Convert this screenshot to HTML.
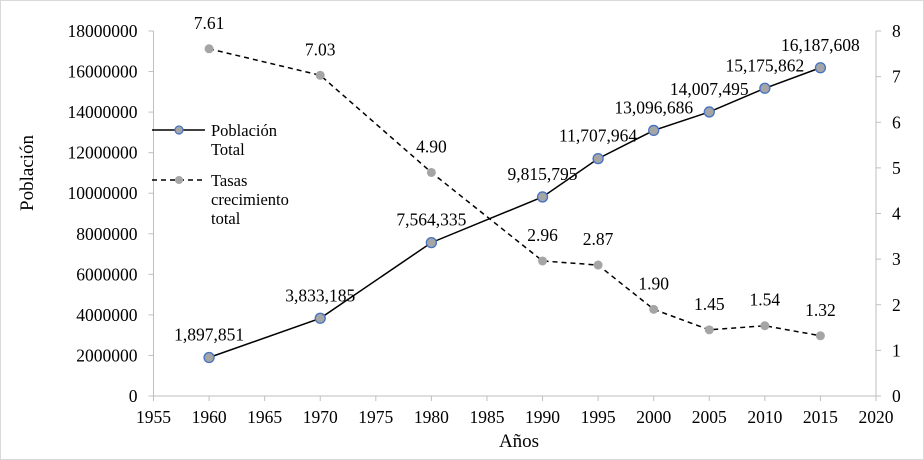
<!DOCTYPE html>
<html><head><meta charset="utf-8"><style>
html,body{margin:0;padding:0;background:#fff;}
svg{display:block;font-family:"Liberation Serif",serif;}
</style></head><body>
<svg id="chart" width="924" height="460">
<rect x="0.5" y="0.5" width="923" height="459" fill="#fff" stroke="#d9d9d9"/>
<g id="axes"></g>
<g id="series"></g>
<g id="legend">
<line x1="152" y1="130" x2="205" y2="130" stroke="#000" stroke-width="1.5"/>
<circle cx="179" cy="130" r="4" fill="#a5a5a5" stroke="#4472c4" stroke-width="1.2"/>
<text x="211" y="136" font-size="16.5">Población</text>
<text x="211" y="155" font-size="16.5">Total</text>
<line x1="152" y1="180" x2="205" y2="180" stroke="#000" stroke-width="1.5" stroke-dasharray="5,4"/>
<circle cx="179" cy="180" r="4" fill="#a5a5a5"/>
<text x="211" y="186" font-size="16.5">Tasas</text>
<text x="211" y="205" font-size="16.5">crecimiento</text>
<text x="211" y="224" font-size="16.5">total</text>
</g>
</svg>
<script>
const years=[1960,1970,1980,1990,1995,2000,2005,2010,2015];
const poblacion=[1897851,3833185,7564335,9815795,11707964,13096686,14007495,15175862,16187608];
const tasas=[7.61,7.03,4.90,2.96,2.87,1.90,1.45,1.54,1.32];
const xTicks=[1955,1960,1965,1970,1975,1980,1985,1990,1995,2000,2005,2010,2015,2020];
const yTicks=[0,2000000,4000000,6000000,8000000,10000000,12000000,14000000,16000000,18000000];
const y2Ticks=[0,1,2,3,4,5,6,7,8];
const NS="http://www.w3.org/2000/svg";
const L=153.5,R=876,T=31,B=396;
const FS=17.5;
const xs=v=>L+(v-1955)/(2020-1955)*(R-L);
const ys=v=>B-v/18000000*(B-T);
const y2=v=>B-v/8*(B-T);
function mk(tag,attrs,parent,txt){const e=document.createElementNS(NS,tag);for(const k in attrs)e.setAttribute(k,attrs[k]);if(txt!==undefined)e.textContent=txt;parent.appendChild(e);return e;}
const ax=document.getElementById('axes'),se=document.getElementById('series');
let e;
e=mk('line',{x1:L,y1:T,x2:L,y2:B,stroke:'#bfbfbf'},ax);


e=mk('line',{x1:R,y1:T,x2:R,y2:B,stroke:'#bfbfbf'},ax);


e=mk('line',{x1:L,y1:B,x2:R,y2:B,stroke:'#bfbfbf'},ax);


xTicks.forEach(t=>{e=mk('line',{x1:xs(t),y1:B,x2:xs(t),y2:B+5,stroke:'#bfbfbf'},ax);


e=mk('text',{x:xs(t),y:B+27,'font-size':FS,'text-anchor':'middle'},ax,t);

});
yTicks.forEach(t=>{e=mk('line',{x1:L-5,y1:ys(t),x2:L,y2:ys(t),stroke:'#bfbfbf'},ax);


e=mk('text',{x:L-16,y:ys(t)+6,'font-size':FS,'text-anchor':'end'},ax,t);

});
y2Ticks.forEach(t=>{e=mk('line',{x1:R,y1:y2(t),x2:R+5,y2:y2(t),stroke:'#bfbfbf'},ax);


e=mk('text',{x:R+16,y:y2(t)+6,'font-size':FS},ax,t);

});
e=mk('text',{x:519,y:447,'font-size':19,'text-anchor':'middle'},ax,'Años');


e=mk('text',{x:33,y:173,'font-size':19,'text-anchor':'middle',transform:'rotate(-90 33 173)'},ax,'Población');


e=mk('polyline',{points:years.map((y,i)=>xs(y)+','+y2(tasas[i])).join(' '),fill:'none',stroke:'#000','stroke-width':1.5,'stroke-dasharray':'5,4'},se);


e=mk('polyline',{points:years.map((y,i)=>xs(y)+','+ys(poblacion[i])).join(' '),fill:'none',stroke:'#000','stroke-width':1.5},se);


years.forEach((y,i)=>{
e=mk('circle',{cx:xs(y),cy:y2(tasas[i]),r:4.5,fill:'#a5a5a5'},se);


e=mk('text',{x:xs(y),y:y2(tasas[i])-20,'font-size':FS,'text-anchor':'middle'},se,tasas[i].toFixed(2));


e=mk('circle',{cx:xs(y),cy:ys(poblacion[i]),r:5,fill:'#a5a5a5',stroke:'#4472c4','stroke-width':1.3},se);


e=mk('text',{x:xs(y),y:ys(poblacion[i])-17,'font-size':FS,'text-anchor':'middle'},se,poblacion[i].toLocaleString('en-US'));


});
</script>
</body></html>
